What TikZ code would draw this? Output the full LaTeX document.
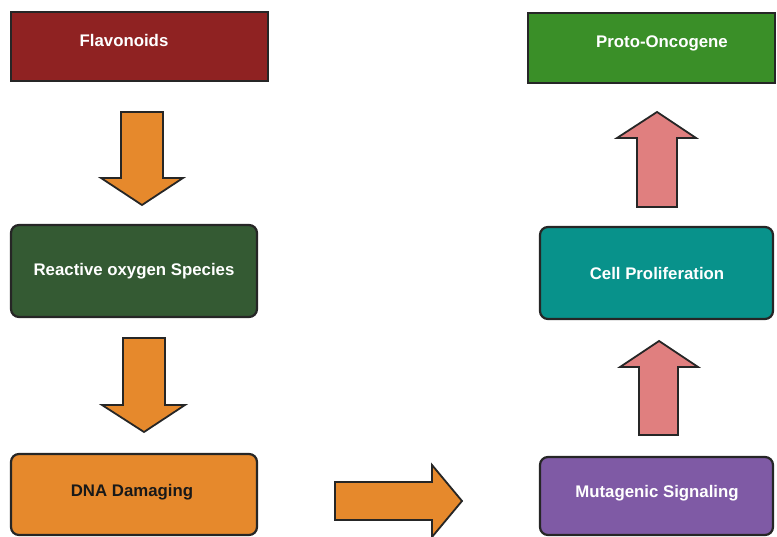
\documentclass[tikz,border=0pt]{standalone}
\usepackage{fontspec}
\setmainfont{Liberation Sans}
\definecolor{cFlav}{HTML}{8F2222}
\definecolor{cROS}{HTML}{345A33}
\definecolor{cDNA}{HTML}{E6892C}
\definecolor{cProto}{HTML}{3A8F28}
\definecolor{cCell}{HTML}{08928B}
\definecolor{cMut}{HTML}{7F5AA5}
\definecolor{cPink}{HTML}{E07F7F}
\definecolor{cOrange}{HTML}{E6892C}
\begin{document}
\begin{tikzpicture}[x=1pt,y=-1pt,
  box/.style={draw=black!85,line width=2.2pt},
  rbox/.style={box,rounded corners=8pt},
  lbl/.style={font=\fontsize{16.8}{19}\selectfont\bfseries,text=white,inner sep=0pt},
  blockarrow/.style={draw=black!85,line width=1.8pt,line join=miter}]
\useasboundingbox (0,0) rectangle (777,537);
% boxes
\draw[box,fill=cFlav] (11,12) rectangle (268,81);
\node[lbl] (flav) at (124,40) {Flavonoids};
\draw[rbox,fill=cROS] (11,225) rectangle (257,317);
\node[lbl] (ros) at (134,271) {Reactive oxygen Species};
\draw[rbox,fill=cDNA] (11,454) rectangle (257,535);
\node[lbl,text=black!90] (dna) at (132,492) {DNA Damaging};
\draw[box,fill=cProto] (528,13) rectangle (775,83);
\node[lbl] (proto) at (662,43) {Proto-Oncogene};
\draw[rbox,fill=cCell] (540,227) rectangle (773,319);
\node[lbl] (cell) at (657,273) {Cell Proliferation};
\draw[rbox,fill=cMut] (540,457) rectangle (773,535);
\node[lbl] (mut) at (657,493) {Mutagenic Signaling};
% block arrows
\draw[blockarrow,fill=cOrange] (121,112) -- (163,112) -- (163,178) -- (183,178) -- (142,205) -- (101,178) -- (121,178) -- cycle;
\draw[blockarrow,fill=cOrange] (123,338) -- (165,338) -- (165,405) -- (185,405) -- (144,432) -- (102,405) -- (123,405) -- cycle;
\draw[blockarrow,fill=cOrange] (335,482) -- (432,482) -- (432,465) -- (462,501) -- (432,537) -- (432,520) -- (335,520) -- cycle;
\draw[blockarrow,fill=cPink] (637,207) -- (677,207) -- (677,138) -- (696,138) -- (657,112) -- (617,138) -- (637,138) -- cycle;
\draw[blockarrow,fill=cPink] (639,435) -- (678,435) -- (678,367) -- (698,367) -- (659,341) -- (620,367) -- (639,367) -- cycle;
\end{tikzpicture}
\end{document}
